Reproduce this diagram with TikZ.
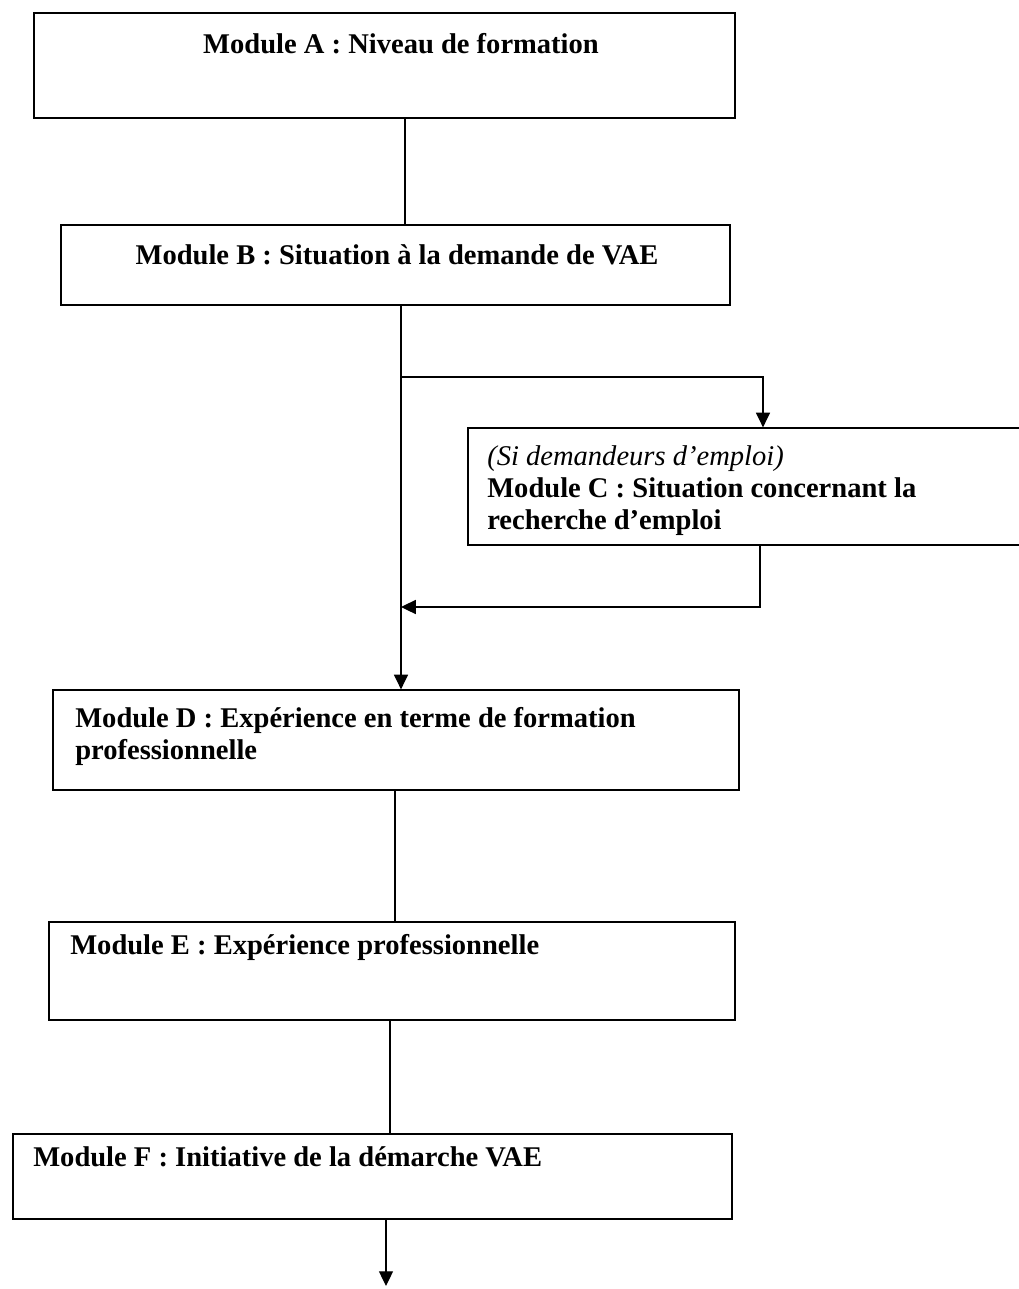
\documentclass[tikz,border=0pt]{standalone}
\usepackage{fontspec}
\setmainfont{Liberation Serif}
\usetikzlibrary{arrows.meta, positioning, calc, fit}

\begin{document}
\begin{tikzpicture}[
    x=0.025cm, y=-0.025cm,
    every node/.style = {font=\fontsize{20.3}{23}\selectfont\bfseries},
    module/.style = {
        draw,
        line width=0.9pt,
        inner sep=0pt
    },
    lbl/.style = {
        inner sep=0pt,
        align=left
    },
    link/.style = {
        line width=0.9pt
    },
    arr/.style = {
        -{Triangle[length=10.5pt,width=10pt]},
        line width=0.9pt
    }
]

\useasboundingbox (0,0) rectangle (1019,1289);
\clip (0,0) rectangle (1019,1289);

%% Module boxes
\node[module, fit={(34,13) (735,118)}]    (modA) {};
\node[module, fit={(61,225) (730,305)}]   (modB) {};
\node[module, fit={(468,428) (1060,545)}] (modC) {};
\node[module, fit={(53,690) (739,790)}]   (modD) {};
\node[module, fit={(49,922) (735,1020)}]  (modE) {};
\node[module, fit={(13,1134) (732,1219)}] (modF) {};

%% Labels
\node[lbl, anchor=base] (txtA) at (401,53) {Module A : Niveau de formation};
\node[lbl, anchor=base] (txtB) at (397,264) {Module B : Situation à la demande de VAE};
\node[lbl, anchor=north west] (txtC) at (487,445)
    {{\mdseries\itshape (Si demandeurs d’emploi)}\\
     Module C : Situation concernant la\\
     recherche d’emploi};
\node[lbl, anchor=north west] (txtD) at (75,707)
    {Module D : Expérience en terme de formation\\
     professionnelle};
\node[lbl, anchor=base west] (txtE) at (70,954) {Module E : Expérience professionnelle};
\node[lbl, anchor=base west] (txtF) at (33,1166) {Module F : Initiative de la démarche VAE};

%% Connector points
\coordinate (ab)    at (405,0);
\coordinate (trunk) at (401,0);
\coordinate (split) at (401,377);
\coordinate (cin)   at (763,0);
\coordinate (cout)  at (760,0);
\coordinate (join)  at (401,607);
\coordinate (de)    at (395,0);
\coordinate (ef)    at (390,0);
\coordinate (fout)  at (386,0);
\coordinate (tail)  at (386,1286);

%% Connectors
\draw[link] (modA.south -| ab) -- (modB.north -| ab);
\draw[arr]  (modB.south -| trunk) -- (modD.north -| trunk);
\draw[arr]  (split) -| (modC.north -| cin);
\draw[arr]  (modC.south -| cout) |- (join);
\draw[link] (modD.south -| de) -- (modE.north -| de);
\draw[link] (modE.south -| ef) -- (modF.north -| ef);
\draw[arr]  (modF.south -| fout) -- (tail);

\end{tikzpicture}
\end{document}
